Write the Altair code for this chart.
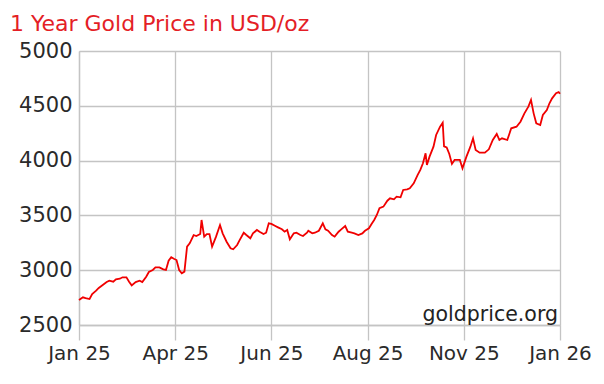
import altair as alt
import pandas as pd

# day index (0 = start of Jan 25, 365 = Jan 26) and gold price in USD/oz
days = [
    0, 3, 5, 8, 10, 13, 15, 18, 21, 23,
    26, 28, 31, 33, 36, 38, 40, 43, 46, 48,
    51, 53, 56, 58, 61, 64, 66, 68, 70, 72,
    74, 76, 78, 80, 82, 84, 87, 89, 92, 93,
    95, 97, 99, 101, 104, 107, 109, 112, 115, 117,
    120, 122, 125, 127, 130, 132, 135, 137, 140, 142,
    144, 146, 149, 151, 154, 156, 158, 160, 163, 165,
    168, 170, 173, 174, 177, 179, 182, 185, 187, 189,
    192, 194, 197, 199, 202, 204, 207, 209, 212, 215,
    217, 220, 222, 224, 226, 228, 231, 234, 236, 239,
    241, 244, 246, 249, 251, 254, 257, 259, 261, 263,
    264, 266, 269, 271, 274, 276, 277, 279, 281, 283,
    285, 289, 291, 294, 297, 299, 301, 304, 308, 311,
    314, 317, 319, 321, 325, 328, 332, 335, 338, 341,
    343, 345, 347, 350, 352, 355, 357, 359, 362, 364,
    365,
]
prices = [
    2728, 2753, 2746, 2737, 2783, 2813, 2838, 2865, 2892, 2904,
    2895, 2917, 2922, 2935, 2935, 2895, 2862, 2892, 2904, 2892,
    2941, 2984, 3002, 3026, 3026, 3008, 3002, 3087, 3118, 3105,
    3093, 3002, 2972, 2987, 3215, 3245, 3321, 3312, 3330, 3458,
    3306, 3330, 3330, 3215, 3306, 3412, 3336, 3260, 3200, 3191,
    3230, 3276, 3342, 3321, 3291, 3336, 3367, 3351, 3330, 3342,
    3428, 3422, 3403, 3391, 3373, 3351, 3367, 3282, 3336, 3342,
    3321, 3312, 3342, 3360, 3336, 3342, 3360, 3428, 3373, 3360,
    3321, 3306, 3351, 3373, 3403, 3351, 3342, 3336, 3321, 3336,
    3360, 3382, 3422, 3458, 3504, 3565, 3580, 3634, 3656, 3647,
    3671, 3665, 3732, 3738, 3747, 3793, 3869, 3915, 3975, 4067,
    3960, 4036, 4127, 4234, 4309, 4345, 4130, 4120, 4060, 3970,
    4006, 4006, 3930, 4036, 4127, 4203, 4097, 4072, 4072, 4103,
    4188, 4243, 4188, 4203, 4188, 4295, 4309, 4355, 4431, 4492,
    4553, 4431, 4340, 4325, 4416, 4462, 4523, 4568, 4614, 4625,
    4610,
]
tick_days = [0, 73, 146, 219, 292, 365]
tick_labels = ["Jan 25", "Apr 25", "Jun 25", "Aug 25", "Nov 25", "Jan 26"]
y_ticks = [2500, 3000, 3500, 4000, 4500, 5000]
title_text = "1 Year Gold Price in USD/oz"
credit_text = "goldprice.org"

df = pd.DataFrame({"day": days, "price": prices})

FONT = "DejaVu Sans"
GRID = "#c4c4c4"
label_arr = "[" + ",".join("'" + t + "'" for t in tick_labels) + "]"

W, H = 481, 274

line = alt.Chart(df).mark_line(color="#f00000", strokeWidth=1.8).encode(
    x=alt.X(
        "day:Q",
        scale=alt.Scale(domain=[0, 365], nice=False, zero=False),
        axis=alt.Axis(
            values=tick_days,
            labelExpr=label_arr + "[round(datum.value/73)]",
            title=None,
            grid=True,
            gridColor=GRID,
            gridWidth=1.3,
            domainColor=GRID,
            domainWidth=1.3,
            tickColor=GRID,
            tickWidth=1.3,
            tickSize=15,
            labelFont=FONT,
            labelFontSize=20,
            labelColor="#2a2a2a",
            labelPadding=3,
            labelFlush=False,
        ),
    ),
    y=alt.Y(
        "price:Q",
        scale=alt.Scale(domain=[2500, 5000], nice=False, zero=False),
        axis=alt.Axis(
            values=y_ticks,
            format="d",
            title=None,
            grid=True,
            gridColor=GRID,
            gridWidth=1.3,
            domainColor=GRID,
            domainWidth=1.3,
            ticks=False,
            labelFont=FONT,
            labelFontSize=21,
            labelColor="#2a2a2a",
            labelPadding=7,
            labelFlush=False,
        ),
    ),
)

credit = alt.Chart(pd.DataFrame({"t": [credit_text]})).mark_text(
    align="right", baseline="alphabetic", font=FONT, fontSize=20.5, color="#222222"
).encode(x=alt.value(W - 2), y=alt.value(H - 4), text="t:N")

chart = (
    alt.layer(line, credit)
    .properties(
        width=W,
        height=H,
        padding={"left": 79, "top": 51, "right": 44, "bottom": 59},
        autosize=alt.AutoSizeParams(type="none"),
        background="white",
        title=alt.TitleParams(
            text=title_text,
            anchor="start",
            frame="group",
            font=FONT,
            fontSize=22,
            fontWeight="normal",
            color="#e41e26",
            dx=-69,
            dy=27,
            offset=14,
            baseline="alphabetic",
        ),
    )
    .configure_view(stroke=None)
)

chart.save("out.html", embed_options={"renderer": "svg", "actions": False})
